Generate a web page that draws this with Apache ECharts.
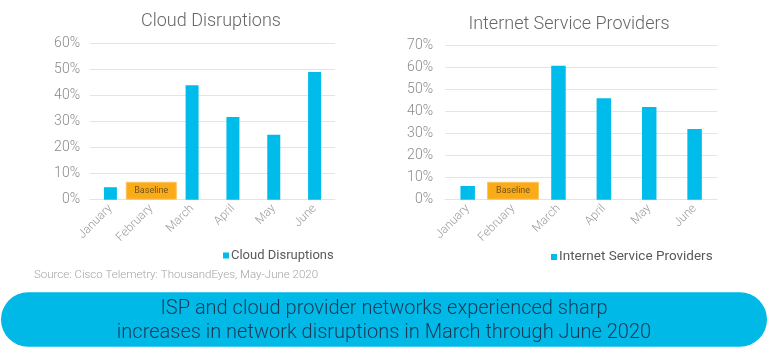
<!DOCTYPE html>
<html>
<head>
<meta charset="utf-8">
<script src="https://cdn.jsdelivr.net/npm/echarts@6/dist/echarts.min.js"></script>
<style>
html,body{margin:0;padding:0;background:#fff;}
#c{width:768px;height:358px;}
</style>
</head>
<body>
<div id="c"></div>
<script>
// ---- Data ----
const categories = ['January', 'February', 'March', 'April', 'May', 'June'];
const cloudValues = [4.8, 6.9, 44, 31.8, 25, 49.1];
const ispValues = [6.2, 8.1, 60.6, 45.9, 41.9, 32];
const baselineIndex = 1;
const baselineLabel = 'Baseline';
const cloudTitle = 'Cloud Disruptions';
const ispTitle = 'Internet Service Providers';
const cloudTicks = { min: 0, max: 60, interval: 10 };
const ispTicks = { min: 0, max: 70, interval: 10 };
const sourceText = 'Source: Cisco Telemetry: ThousandEyes, May-June 2020';
const bannerLines = ['ISP and cloud provider networks experienced sharp',
                     'increases in network disruptions in March through June 2020'];

// ---- Build ----
const FONT = 'Roboto, "Open Sans", sans-serif';
const BLUE = '#00BCEB';
const ORANGE = '#FBAB18';

function mainData(vals) { return vals.map((v, i) => i === baselineIndex ? null : v); }
function baseData(vals) { return vals.map((v, i) => i === baselineIndex ? v : null); }

const chart = echarts.init(document.getElementById('c'), null, { renderer: 'canvas' });

function yAxis(gridIndex, ticks, margin) {
  return {
    type: 'value', gridIndex, min: ticks.min, max: ticks.max, interval: ticks.interval,
    axisLine: { show: false }, axisTick: { show: false },
    splitLine: { lineStyle: { color: '#e4e4e4', width: 1 } },
    axisLabel: { formatter: '{value}%', color: '#8a8a8a', fontSize: 14, fontFamily: FONT, fontWeight: 300, margin }
  };
}
function xAxisMain(gridIndex) {
  return {
    type: 'category', gridIndex, data: categories,
    axisLine: { show: true, lineStyle: { color: '#e4e4e4' } }, axisTick: { show: false },
    axisLabel: { rotate: 45, color: '#9a9a9a', fontSize: 12, fontFamily: FONT, fontWeight: 300, margin: 7, interval: 0 }
  };
}
function xAxisHidden(gridIndex) {
  return { type: 'category', gridIndex, data: categories, show: false };
}
function titleText(text, x, y) {
  return { type: 'text', x, y,
    style: { text, fill: '#666', fontSize: 18, fontWeight: 300, fontFamily: FONT,
             textAlign: 'center', textVerticalAlign: 'middle' } };
}
function bannerText(text, y) {
  return { type: 'text', x: 384, y,
    style: { text, fill: '#1b3857', fontSize: 20, fontFamily: FONT, fontWeight: 300,
             textAlign: 'center', textVerticalAlign: 'middle' } };
}

const option = {
  animation: false,
  grid: [
    { left: 90, right: 433, top: 43.7, bottom: 158.3 },
    { left: 445, right: 50.7, top: 45, bottom: 158.3 }
  ],
  legend: [
    { data: [cloudTitle], left: 218, top: 244, icon: 'rect', itemWidth: 6, itemHeight: 6, itemGap: 4,
      textStyle: { color: '#595959', fontSize: 13, fontFamily: FONT, padding: [0, 0, 0, -3] } },
    { data: [ispTitle], left: 546, top: 245, icon: 'rect', itemWidth: 6, itemHeight: 6,
      textStyle: { color: '#595959', fontSize: 13.5, fontFamily: FONT, padding: [0, 0, 0, -3] } }
  ],
  xAxis: [xAxisMain(0), xAxisHidden(0), xAxisMain(1), xAxisHidden(1)],
  yAxis: [yAxis(0, cloudTicks, 10), yAxis(1, ispTicks, 12)],
  series: [
    { name: cloudTitle, type: 'bar', xAxisIndex: 0, yAxisIndex: 0, data: mainData(cloudValues),
      barWidth: 13, itemStyle: { color: BLUE } },
    { name: 'cloudBaseline', type: 'bar', xAxisIndex: 1, yAxisIndex: 0, data: baseData(cloudValues),
      barWidth: 51, itemStyle: { color: ORANGE, borderColor: '#FCC55E', borderWidth: 1 },
      label: { show: true, position: 'inside', formatter: baselineLabel, color: '#6b5520', fontSize: 9, fontFamily: FONT } },
    { name: ispTitle, type: 'bar', xAxisIndex: 2, yAxisIndex: 1, data: mainData(ispValues),
      barWidth: 14.5, itemStyle: { color: BLUE } },
    { name: 'ispBaseline', type: 'bar', xAxisIndex: 3, yAxisIndex: 1, data: baseData(ispValues),
      barWidth: 52, itemStyle: { color: ORANGE, borderColor: '#FCC55E', borderWidth: 1 },
      label: { show: true, position: 'inside', formatter: baselineLabel, color: '#6b5520', fontSize: 9, fontFamily: FONT } }
  ],
  graphic: [
    titleText(cloudTitle, 211, 21.5),
    titleText(ispTitle, 569, 24),
    { type: 'text', x: 34, y: 275.3,
      style: { text: sourceText, fill: '#a5a5a5', fontSize: 11.5, fontFamily: FONT, fontWeight: 300,
               textVerticalAlign: 'middle' } },
    { type: 'rect', shape: { x: 1, y: 292.3, width: 766, height: 54.4, r: 27.2 },
      style: { fill: '#00B9E7' } },
    bannerText(bannerLines[0], 308.5),
    bannerText(bannerLines[1], 333)
  ]
};
chart.setOption(option);
</script>
</body>
</html>
